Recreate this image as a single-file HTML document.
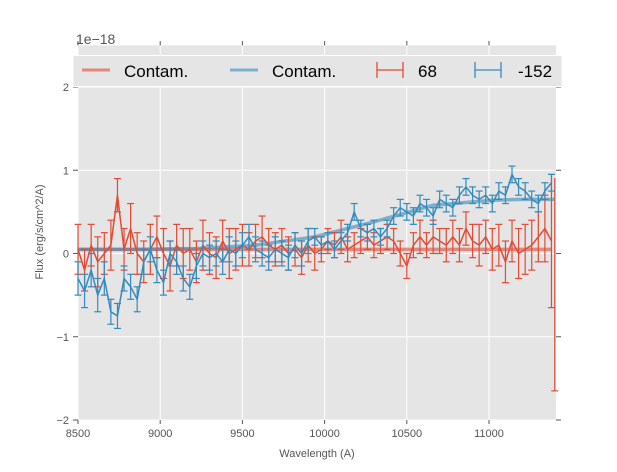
<!DOCTYPE html>
<html><head><meta charset="utf-8"><style>
body{margin:0;background:#fff;}
svg{font-family:"Liberation Sans",sans-serif;}
</style></head><body>
<svg id="chart" width="617" height="467" viewBox="0 0 617 467" xmlns="http://www.w3.org/2000/svg">
<rect x="78" y="45.4" width="478" height="374.6" fill="#e5e5e5"/>
<g id="grid"></g>
<g id="ticks"></g>
<g id="series"></g>
<text x="76" y="44" font-size="14" fill="#555">1e−18</text>
<text x="317" y="457" font-size="11" fill="#555" text-anchor="middle">Wavelength (A)</text>
<text transform="translate(43,232) rotate(-90)" font-size="11" fill="#555" text-anchor="middle">Flux (erg/s/cm^2/A)</text>
<g>
<rect x="73" y="55.5" width="489" height="31" fill="#e5e5e5" stroke="#fff" stroke-width="1"/>
<g><line x1="82" y1="70" x2="110" y2="70" stroke="#E24A33" stroke-opacity="0.6" stroke-width="3"/><text x="124" y="77" font-size="17" fill="#000">Contam.</text></g>
<g><line x1="230" y1="70" x2="258" y2="70" stroke="#348ABD" stroke-opacity="0.6" stroke-width="3"/><text x="272" y="77" font-size="17" fill="#000">Contam.</text></g>
<g stroke="#E24A33" stroke-width="1.3"><line x1="377" y1="70" x2="403" y2="70"/><line x1="377" y1="62" x2="377" y2="78"/><line x1="403" y1="62" x2="403" y2="78"/><text x="418" y="77" font-size="17" fill="#000" stroke="none">68</text></g>
<g stroke="#348ABD" stroke-width="1.3"><line x1="475" y1="70" x2="501" y2="70"/><line x1="475" y1="62" x2="475" y2="78"/><line x1="501" y1="62" x2="501" y2="78"/><text x="518" y="77" font-size="17" fill="#000" stroke="none">-152</text></g>
</g>
</svg>
<script>
const xTicks=[8500,9000,9500,10000,10500,11000];
const yTicks=[-2,-1,0,1,2];
const yTickLabels=["−2","−1","0","1","2"];
const wave0=8500, waveStep=40;
const redVals=[0.05,-0.2,0.1,-0.1,0.0,0.1,0.7,0.05,0.3,0.0,-0.1,0.05,0.2,0.0,-0.15,0.1,0.0,0.05,-0.1,0.1,0.0,-0.05,0.15,0.0,0.05,0.1,0.05,0.15,0.2,0.1,0.05,0.1,0.0,0.05,-0.05,0.1,0.0,0.05,0.15,0.1,0.2,0.05,0.1,0.15,0.2,0.1,0.15,0.2,0.15,0.0,-0.15,0.1,0.2,0.1,0.2,0.15,0.1,0.2,0.1,0.3,0.15,0.1,0.2,0.05,0.1,-0.1,0.15,0.0,0.05,0.1,0.2,0.3,0.15];
const redErr=[0.3,0.25,0.25,0.3,0.25,0.3,0.2,0.25,0.3,0.25,0.25,0.3,0.25,0.3,0.3,0.25,0.3,0.25,0.25,0.3,0.25,0.25,0.25,0.3,0.25,0.25,0.2,0.2,0.25,0.2,0.2,0.2,0.2,0.2,0.2,0.2,0.2,0.15,0.15,0.15,0.2,0.15,0.15,0.15,0.15,0.15,0.15,0.15,0.15,0.15,0.15,0.15,0.2,0.15,0.2,0.15,0.2,0.2,0.2,0.2,0.2,0.25,0.2,0.25,0.25,0.25,0.25,0.3,0.3,0.3,0.3,0.4,0.8];
const blueVals=[-0.3,-0.45,-0.2,-0.5,-0.3,-0.7,-0.75,-0.3,-0.4,-0.55,-0.1,0.05,-0.2,-0.35,0.0,-0.1,-0.3,-0.4,-0.15,0.0,-0.05,0.0,-0.1,0.05,0.0,0.1,0.2,0.05,0.0,-0.05,0.05,0.0,-0.05,0.1,0.0,0.15,0.2,0.1,0.15,0.05,0.15,0.25,0.5,0.3,0.25,0.3,0.2,0.3,0.45,0.55,0.5,0.45,0.6,0.55,0.45,0.65,0.6,0.55,0.7,0.8,0.7,0.65,0.7,0.6,0.75,0.7,0.95,0.8,0.75,0.65,0.6,0.75,0.85];
const blueErr=[0.2,0.2,0.2,0.2,0.2,0.15,0.15,0.15,0.15,0.15,0.15,0.15,0.15,0.15,0.15,0.15,0.15,0.15,0.15,0.15,0.15,0.15,0.15,0.15,0.15,0.15,0.15,0.15,0.15,0.15,0.15,0.15,0.15,0.15,0.15,0.15,0.1,0.1,0.1,0.1,0.1,0.1,0.1,0.1,0.1,0.1,0.1,0.1,0.1,0.1,0.1,0.1,0.1,0.1,0.1,0.1,0.1,0.1,0.1,0.1,0.1,0.1,0.1,0.1,0.1,0.1,0.1,0.1,0.1,0.1,0.1,0.1,0.1];
const contamRed=[0.05,0.05,0.05,0.05,0.05,0.05,0.05,0.05,0.05];
const contamBlue=[0.05,0.05,0.06,0.1,0.2,0.38,0.58,0.64,0.65,0.65];
const contamWaves=[8500,8860,9220,9580,9940,10300,10660,11020,11380];
const contamBlueWaves=[8500,8860,9220,9580,9940,10300,10660,11020,11200,11400];
const edgeWave=[11400];
const edgeVal=[0.0];
const edgeErr=[1.65];
const X=w=>78+(w-8500)*(411/2500);
const Y=v=>253.5-v*83.25;
const NS="http://www.w3.org/2000/svg";
function mk(tag,attrs,parent){const e=document.createElementNS(NS,tag);for(const k in attrs)e.setAttribute(k,attrs[k]);parent.appendChild(e);return e;}
const grid=document.getElementById('grid'),ticks=document.getElementById('ticks'),ser=document.getElementById('series');
xTicks.forEach(t=>{
 const l=mk('line',{x1:X(t),x2:X(t),y1:45.4,y2:420,stroke:'#fff','stroke-width':1},grid);
 
 
 mk('line',{x1:X(t),x2:X(t),y1:420,y2:424,stroke:'#555'},ticks);
 mk('line',{x1:X(t),x2:X(t),y1:41,y2:45.4,stroke:'#555'},ticks);
 const tx=mk('text',{x:X(t),y:437,'font-size':11,fill:'#555','text-anchor':'middle'},ticks);
 tx.textContent=t;
 
 
});
yTicks.forEach((t,i)=>{
 const l=mk('line',{x1:78,x2:556,y1:Y(t),y2:Y(t),stroke:'#fff','stroke-width':1},grid);
 
 
 mk('line',{x1:73,x2:78,y1:Y(t),y2:Y(t),stroke:'#555'},ticks);
 mk('line',{x1:556,x2:561,y1:Y(t),y2:Y(t),stroke:'#555'},ticks);
 const tx=mk('text',{x:69,y:Y(t)+4,'font-size':11,fill:'#555','text-anchor':'end'},ticks);
 tx.textContent=yTickLabels[i];
 
 
});
function contam(waves,vals,color,name){
 const p=mk('polyline',{points:vals.map((v,i)=>X(waves[i])+','+Y(v)).join(' '),fill:'none',stroke:color,'stroke-opacity':0.6,'stroke-width':3.5},ser);
 
 
}
function errs(vals,er,color,name){
 const g=mk('g',{stroke:color,'stroke-width':1.2,fill:'none'},ser);
 
 
 vals.forEach((v,i)=>{
  const x=X(wave0+i*waveStep);
  if(x>556.5)return;
  const a=Y(v+er[i]),b=Y(v-er[i]);
  mk('line',{x1:x,x2:x,y1:a,y2:b},g);
  mk('line',{x1:x-3.5,x2:x+3.5,y1:a,y2:a},g);
  mk('line',{x1:x-3.5,x2:x+3.5,y1:b,y2:b},g);
 });
 const pts=vals.map((v,i)=>[X(wave0+i*waveStep),Y(v)]).filter(p=>p[0]<=556.5);
 mk('polyline',{points:pts.map(p=>p.join(',')).join(' '),'stroke-width':1.5},g);
 return g;
}
contam(contamWaves,contamRed,'#E24A33','contam-red-line');
contam(contamBlueWaves,contamBlue,'#348ABD','contam-blue-line');
const rg=errs(redVals,redErr,'#E24A33','series-68');
edgeWave.forEach((w,i)=>{
 const x=Math.min(X(w),555.5);
 mk('line',{x1:x,x2:x,y1:Y(edgeVal[i]+edgeErr[i]*0.55),y2:Y(edgeVal[i]-edgeErr[i])},rg);
 mk('line',{x1:x-3.5,x2:x+3.5,y1:Y(edgeVal[i]-edgeErr[i]),y2:Y(edgeVal[i]-edgeErr[i])},rg);
});
errs(blueVals,blueErr,'#348ABD','series-minus-152');
</script>
</body></html>
